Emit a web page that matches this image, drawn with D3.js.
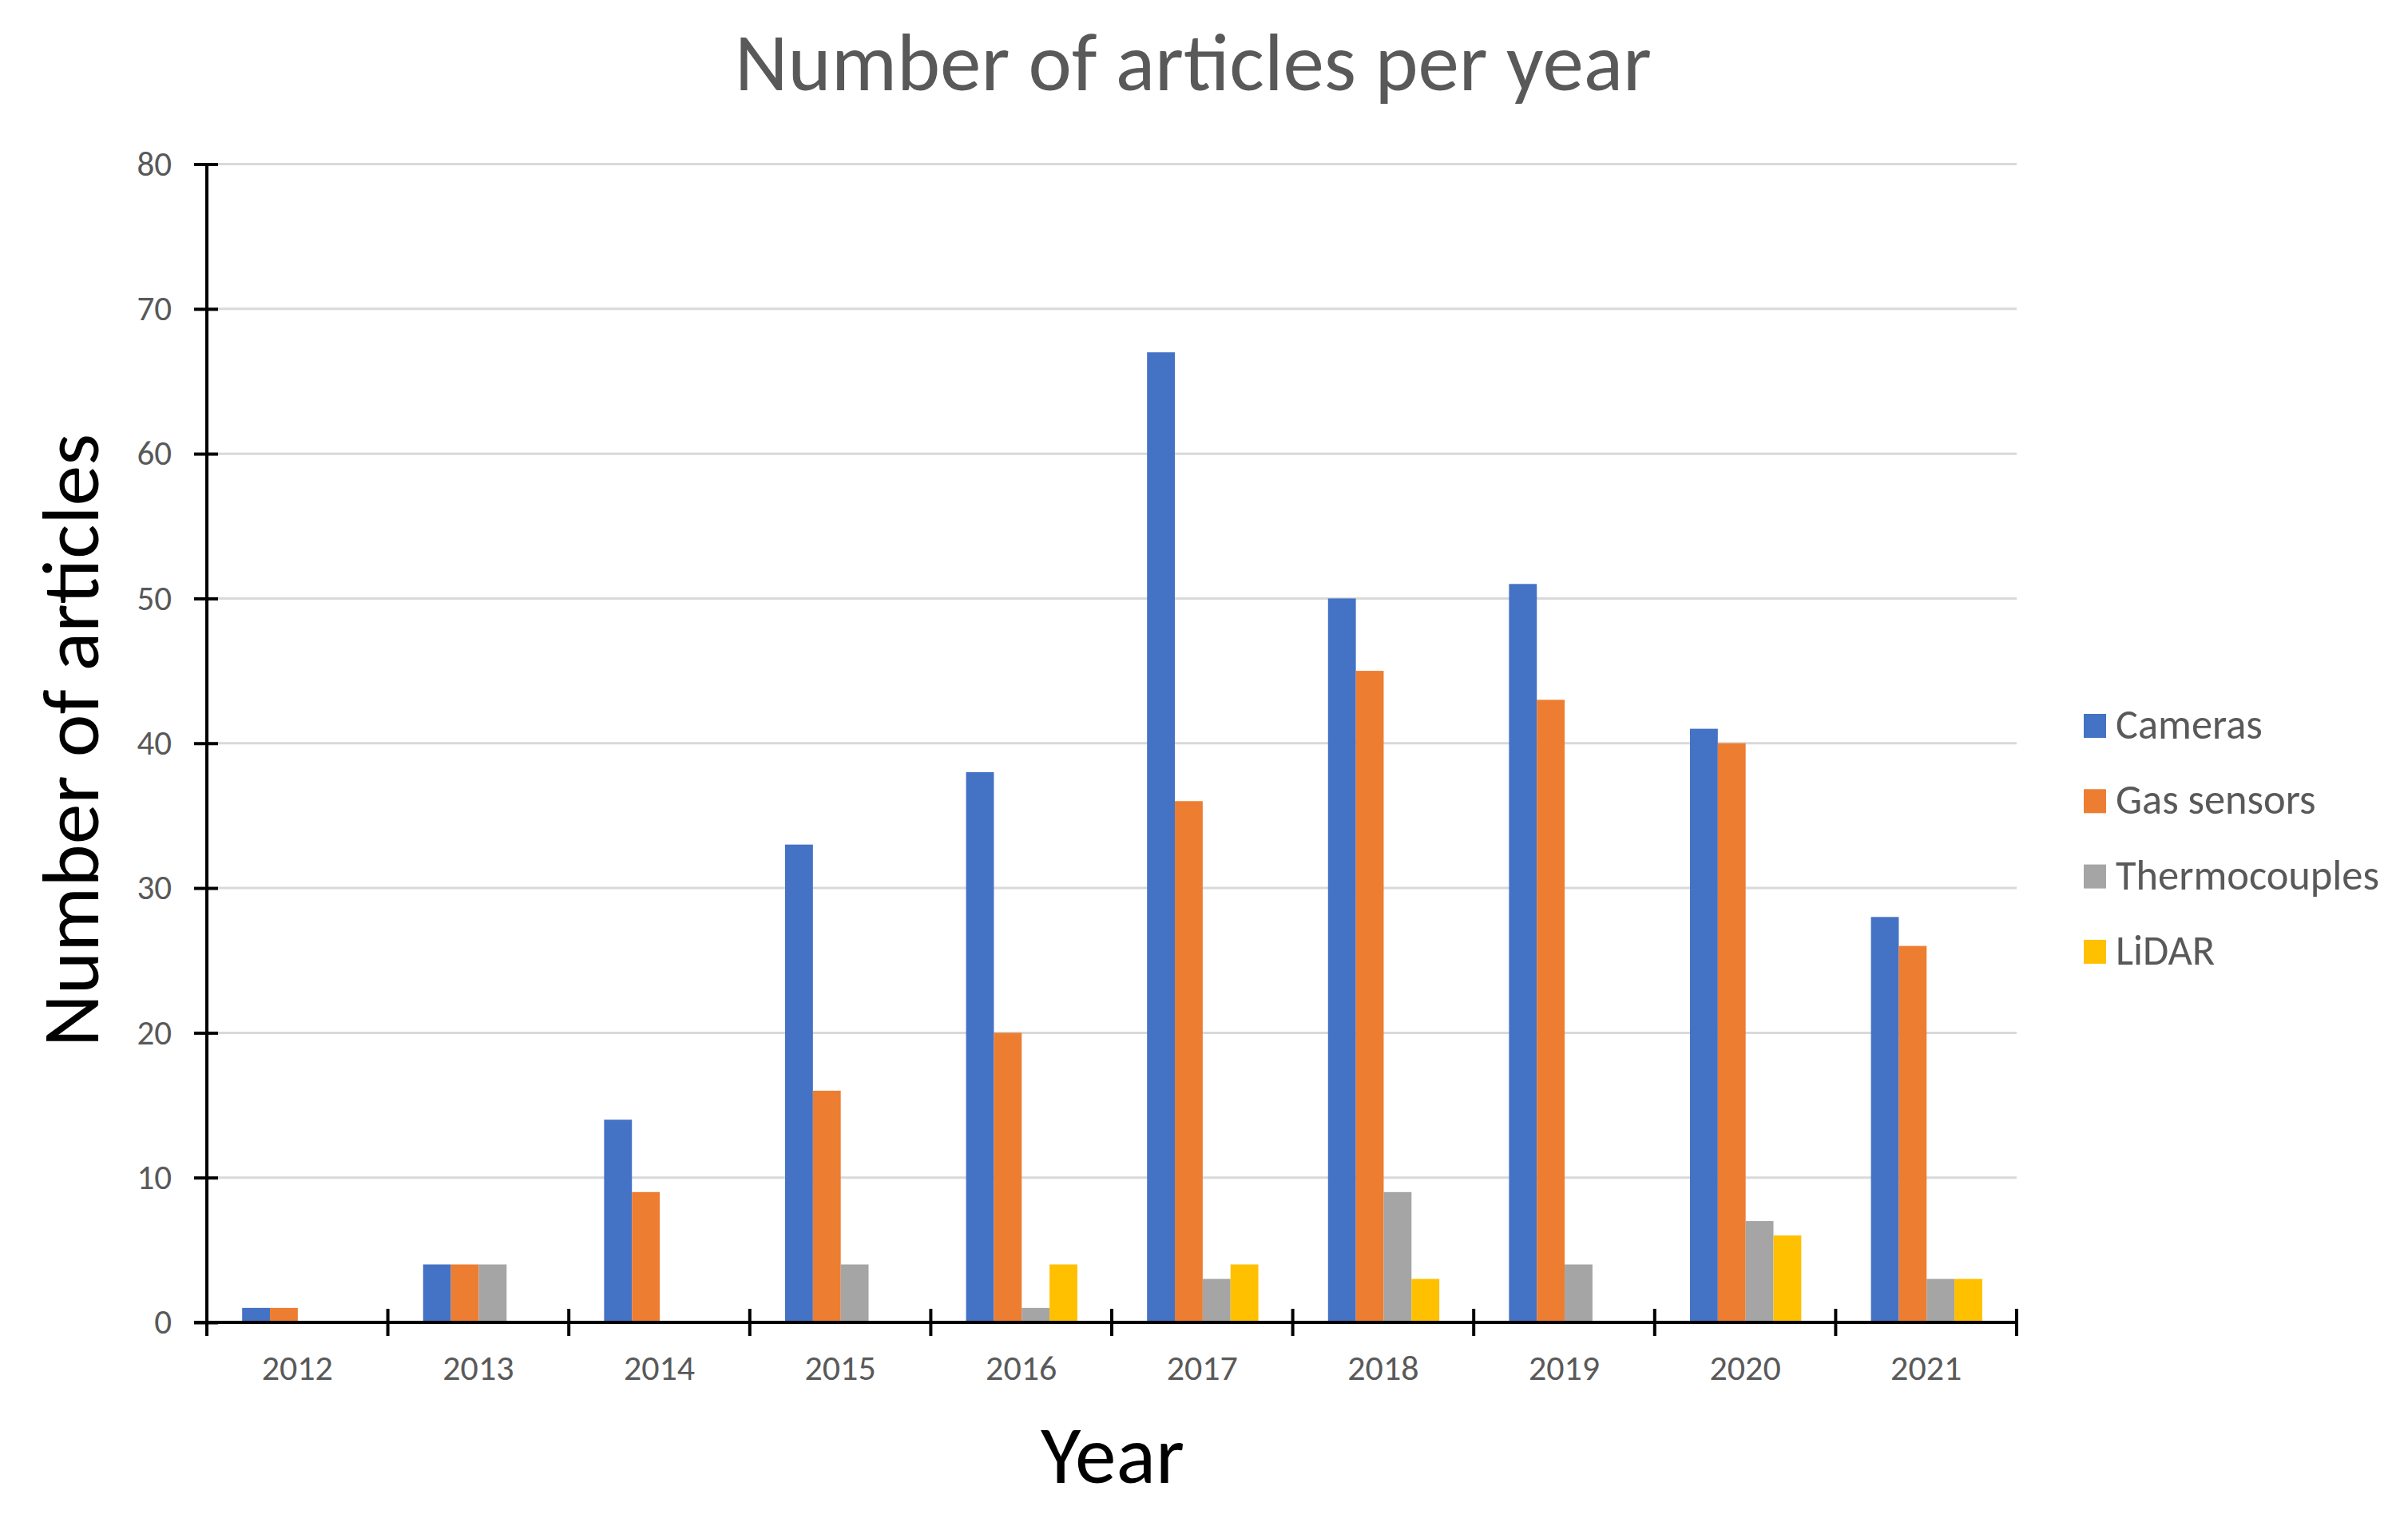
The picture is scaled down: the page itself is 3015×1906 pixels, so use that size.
<!DOCTYPE html>
<html><head><meta charset="utf-8">
<script src="https://cdn.jsdelivr.net/npm/d3@7"></script>
<style>body{margin:0;background:#fff}</style>
</head><body>
<svg id="chart" width="3015" height="1906"></svg>
<script>
// ---- data ----
const years = ["2012","2013","2014","2015","2016","2017","2018","2019","2020","2021"];
const seriesNames = ["Cameras","Gas sensors","Thermocouples","LiDAR"];
const cameras       = [1, 4, 14, 33, 38, 67, 50, 51, 41, 28];
const gasSensors    = [1, 4,  9, 16, 20, 36, 45, 43, 40, 26];
const thermocouples = [0, 4,  0,  4,  1,  3,  9,  4,  7,  3];
const lidar         = [0, 0,  0,  0,  4,  4,  3,  0,  6,  3];
const yTicks = [0, 10, 20, 30, 40, 50, 60, 70, 80];
const colors = ["#4472C4", "#ED7D31", "#A5A5A5", "#FFC000"];
const titleText = "Number of articles per year";
const yTitleText = "Number of articles";
const xTitleText = "Year";

const seriesValues = [cameras, gasSensors, thermocouples, lidar];
const table = years.map((yr, i) => ({year: yr, values: seriesNames.map((s, k) => ({key: s, value: seriesValues[k][i]}))}));

// ---- layout ----
const FONT = "Carlito, Lato, 'Open Sans', sans-serif";
const svg = d3.select("#chart");
const pLeft = 259, pRight = 2525, pTop = 205.5, pBottom = 1656;

const x0 = d3.scaleBand().domain(years).range([pLeft, pRight]).paddingInner(0).paddingOuter(0);
const gw = x0.bandwidth();
const x1 = d3.scaleBand().domain(seriesNames).range([gw * 0.195, gw * 0.81]).padding(0);
const y = d3.scaleLinear().domain([0, 80]).range([pBottom, pTop]);
const color = d3.scaleOrdinal().domain(seriesNames).range(colors);

function fit(t, w) {
  const cur = t.node().getComputedTextLength();
  const fs = parseFloat(t.attr("font-size"));
  const nf = fs * w / cur;
  t.attr("font-size", nf);
  return nf;
}

// gridlines
svg.append("g").selectAll("line").data(yTicks.filter(d => d > 0)).join("line")
  .attr("x1", pLeft).attr("x2", pRight)
  .attr("y1", d => y(d)).attr("y2", d => y(d))
  .attr("stroke", "#D9D9D9").attr("stroke-width", 3);

// bars
const groups = svg.append("g").selectAll("g").data(table).join("g")
  .attr("transform", d => `translate(${x0(d.year)},0)`);
groups.selectAll("rect").data(d => d.values).join("rect")
  .attr("x", d => x1(d.key)).attr("width", x1.bandwidth())
  .attr("y", d => y(d.value)).attr("height", d => y(0) - y(d.value))
  .attr("fill", d => color(d.key));

// y axis
const yAxis = svg.append("g").attr("transform", `translate(${pLeft},0)`)
  .call(d3.axisLeft(y).tickValues(yTicks).tickSize(0).tickPadding(0));
yAxis.select(".domain").attr("stroke", "#000").attr("stroke-width", 4).attr("d", `M0,${pTop}V${pBottom}`);
yAxis.selectAll(".tick line").attr("x1", -16).attr("x2", 14).attr("stroke", "#000").attr("stroke-width", 4);
yAxis.selectAll(".tick text").attr("x", -44).attr("dy", "0.32em")
  .attr("font-family", FONT).attr("font-size", 43).attr("fill", "#595959").attr("text-anchor", "end");

// x axis
const xAxis = svg.append("g").attr("transform", `translate(0,${pBottom})`)
  .call(d3.axisBottom(x0).tickSize(0).tickPadding(0));
xAxis.select(".domain").attr("stroke", "#000").attr("stroke-width", 4).attr("d", `M${pLeft - 16},0H${pRight}`);
xAxis.selectAll(".tick text").attr("y", 72).attr("dy", 0)
  .attr("font-family", FONT).attr("font-size", 44).attr("fill", "#595959");
const bounds = years.map(d => x0(d)).concat([x0(years[years.length - 1]) + gw]);
xAxis.append("g").selectAll("line").data(bounds).join("line")
  .attr("x1", d => d).attr("x2", d => d).attr("y1", -17).attr("y2", 17)
  .attr("stroke", "#000").attr("stroke-width", 4);

// title
const t = svg.append("text").text(titleText)
  .attr("x", 1494).attr("y", 113).attr("text-anchor", "middle")
  .attr("font-family", FONT).attr("font-weight", 300).attr("font-size", 95).attr("fill", "#595959");
fit(t, 1148);

// axis titles
const yt = svg.append("text").text(yTitleText)
  .attr("transform", "translate(123,927) rotate(-90)").attr("text-anchor", "middle")
  .attr("font-family", FONT).attr("font-size", 95).attr("fill", "#000");
fit(yt, 768);
const xt = svg.append("text").text(xTitleText)
  .attr("x", 1393).attr("y", 1857).attr("text-anchor", "middle")
  .attr("font-family", FONT).attr("font-size", 95).attr("fill", "#000");
fit(xt, 180);

// legend
const leg = svg.append("g").selectAll("g").data(seriesNames).join("g")
  .attr("transform", (d, i) => `translate(2609,${894 + i * 94.3})`);
leg.append("rect").attr("width", 28).attr("height", 30).attr("fill", d => color(d));
const legTexts = leg.append("text").text(d => d).attr("x", 40).attr("y", 31)
  .attr("font-family", FONT).attr("font-size", 42).attr("fill", "#595959");
const thermo = legTexts.filter(d => d === "Thermocouples");
const lfs = fit(thermo, 330);
legTexts.attr("font-size", lfs);
</script>
</body></html>
